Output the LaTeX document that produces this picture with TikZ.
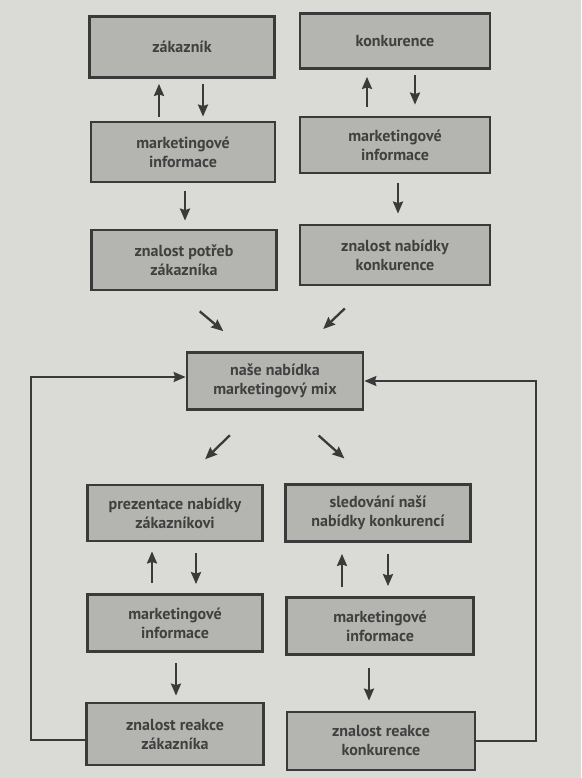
\documentclass[tikz,border=0pt]{standalone}
\usepackage{fontspec}
\setmainfont{PT Sans}
\usepackage{tikz}
\usetikzlibrary{positioning,arrows.meta,calc}
\definecolor{paper}{HTML}{DADAD6}
\definecolor{bfill}{HTML}{B4B4B1}
\definecolor{bline}{HTML}{3A3A3A}
\definecolor{btext}{HTML}{404040}

\begin{document}
\begin{tikzpicture}[x=1pt, y=-1pt,
  blok/.style={rectangle, draw=bline, fill=bfill, line width=2.8pt, align=center,
    text=btext, font=\fontsize{16}{19}\selectfont\bfseries, inner sep=3pt},
  arr/.style={-{Stealth[length=12pt,width=10pt,inset=1.5pt]}, line width=2.3pt, color=bline}
]
\fill[paper] (0,0) rectangle (581,778);
\useasboundingbox (0,0) rectangle (581,778);

% upper part
\node[blok, minimum width=185pt, minimum height=61pt] (zak) at (182,47) {zákazník};
\node[blok, minimum width=190pt, minimum height=55pt] (konk) at (395,41) {konkurence};
\node[blok, minimum width=184pt, minimum height=60pt] (mi1) at (183,152) {marketingové\\informace};
\node[blok, minimum width=190pt, minimum height=56pt] (mi2) at (395,145) {marketingové\\informace};
\node[blok, minimum width=185pt, minimum height=60pt] (potreb) at (184,260) {znalost potřeb\\zákazníka};
\node[blok, minimum width=190pt, minimum height=60pt] (nabk) at (395,255) {znalost nabídky\\konkurence};

\node[blok, minimum width=176pt, minimum height=57pt] (mix) at (275,381) {naše nabídka\\marketingový mix};

% lower part
\node[blok, minimum width=175pt, minimum height=56pt] (prez) at (175,513) {prezentace nabídky\\zákazníkovi};
\node[blok, minimum width=185pt, minimum height=57pt] (sled) at (378,513) {sledování naší\\nabídky konkurencí};
\node[blok, minimum width=175pt, minimum height=57pt] (mi3) at (175,623) {marketingové\\informace};
\node[blok, minimum width=187pt, minimum height=57pt] (mi4) at (380,626) {marketingové\\informace};
\node[blok, minimum width=177pt, minimum height=62pt] (rzak) at (175,734) {znalost reakce\\zákazníka};
\node[blok, minimum width=188pt, minimum height=58pt] (rkonk) at (381,741) {znalost reakce\\konkurence};

\draw[arr, shorten <=4pt, shorten >=5pt] ([xshift=-24pt]mi1.north) -- ([xshift=-24pt]mi1.north |- zak.south);
\draw[arr, shorten <=5pt, shorten >=4pt] ([xshift=21pt]zak.south) -- ([xshift=21pt]zak.south |- mi1.north);
\draw[arr, shorten <=8pt, shorten >=8pt] ([xshift=2pt]mi1.south) -- ([xshift=2pt]mi1.south |- potreb.north);
\draw[arr, shorten <=9pt, shorten >=7pt] ([xshift=-28pt]mi2.north) -- ([xshift=-28pt]mi2.north |- konk.south);
\draw[arr, shorten <=5pt, shorten >=11pt] ([xshift=20pt]konk.south) -- ([xshift=20pt]konk.south |- mi2.north);
\draw[arr, shorten <=9pt, shorten >=10pt] ([xshift=3pt]mi2.south) -- ([xshift=3pt]mi2.south |- nabk.north);

\draw[arr, shorten <=31pt, shorten >=31pt] ([xshift=-8pt]potreb.south) -- ([xshift=-28pt]mix.north);
\draw[arr, shorten <=32pt, shorten >=32pt] ([xshift=-27pt]nabk.south) -- ([xshift=25pt]mix.north);
\draw[arr, shorten <=35pt, shorten >=35pt] ([xshift=-20pt]mix.south) -- ([xshift=5pt]prez.north);
\draw[arr, shorten <=37pt, shorten >=37pt] ([xshift=16pt]mix.south) -- ([xshift=-6pt]sled.north);

\draw[arr, shorten <=10pt, shorten >=9pt] ([xshift=-23pt]mi3.north) -- ([xshift=-23pt]mi3.north |- prez.south);
\draw[arr, shorten <=11pt, shorten >=9pt] ([xshift=21pt]prez.south) -- ([xshift=21pt]prez.south |- mi3.north);
\draw[arr, shorten <=9pt, shorten >=11pt] ([xshift=-38pt]mi4.north) -- ([xshift=-38pt]mi4.north |- sled.south);
\draw[arr, shorten <=11pt, shorten >=10pt] ([xshift=10pt]sled.south) -- ([xshift=10pt]sled.south |- mi4.north);
\draw[arr, shorten <=10pt, shorten >=6pt] ([xshift=1pt]mi3.south) -- ([xshift=1pt]mi3.south |- rzak.north);
\draw[arr, shorten <=12pt, shorten >=10pt] ([xshift=-11pt]mi4.south) -- ([xshift=-11pt]mi4.south |- rkonk.north);

% feedback
\draw[arr, line width=2pt] ([yshift=-6pt]rzak.west) -- ++(-54pt,0) |- ([yshift=4pt]mix.west);
\draw[arr, line width=2pt] (rkonk.east) -- ++(60pt,0) |- (mix.east);
\end{tikzpicture}
\end{document}
